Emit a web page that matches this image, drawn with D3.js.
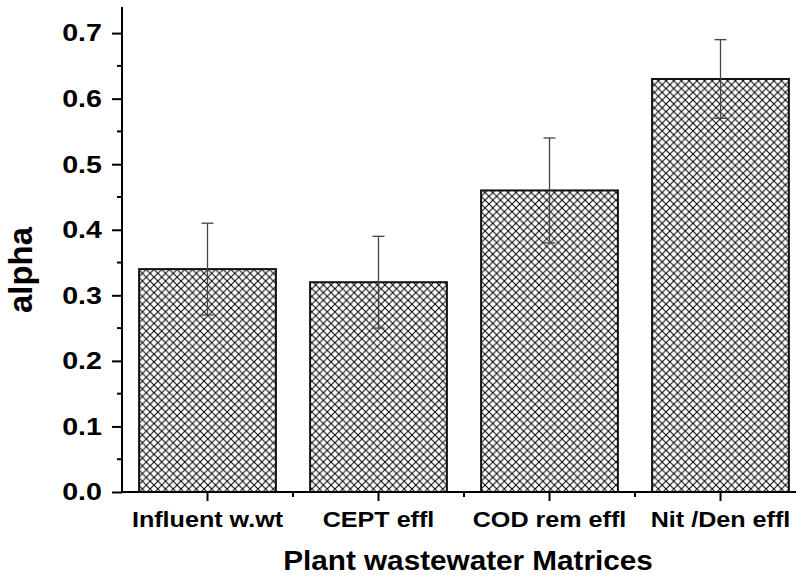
<!DOCTYPE html>
<html>
<head>
<meta charset="utf-8">
<script src="https://cdn.jsdelivr.net/npm/d3@7"></script>
<style>
body { margin: 0; background: #fff; }
text { font-family: "Liberation Sans", Arial, sans-serif; font-weight: bold; }
</style>
</head>
<body>
<div id="chart"></div>
<script>
// data
var categories = ["Influent w.wt", "CEPT effl", "COD rem effl", "Nit /Den effl"];
var values = [0.34, 0.32, 0.46, 0.63];
var errors = [0.07, 0.07, 0.08, 0.06];
var yTicks = [0.0, 0.1, 0.2, 0.3, 0.4, 0.5, 0.6, 0.7];

var width = 796, height = 576;
var margin = {left: 122, top: 7, bottom: 84};
var bandW = 171;
var stretch = 1.17; // the original glyphs look widened

var svg = d3.select("#chart").append("svg")
  .attr("width", width).attr("height", height);

// cross hatch pattern
var hs = 7.7;
var defs = svg.append("defs");
var pat = defs.append("pattern")
  .attr("id", "hatch")
  .attr("patternUnits", "userSpaceOnUse")
  .attr("width", hs).attr("height", hs);
pat.append("rect").attr("width", hs).attr("height", hs).attr("fill", "#fff");
pat.append("path").attr("d", "M0,0L" + hs + "," + hs + "M" + hs + ",0L0," + hs)
  .attr("stroke", "#000").attr("stroke-width", 1);

var x = d3.scaleBand()
  .domain(categories)
  .range([margin.left, margin.left + bandW * categories.length])
  .paddingInner(0.2).paddingOuter(0.1);

var y = d3.scaleLinear()
  .domain([0, 0.7398])
  .range([height - margin.bottom, margin.top]);

// bars
svg.selectAll(".bar").data(values).enter().append("rect")
  .attr("class", "bar")
  .attr("x", (d, i) => x(categories[i]))
  .attr("width", x.bandwidth())
  .attr("y", d => y(d))
  .attr("height", d => y(0) - y(d))
  .attr("fill", "url(#hatch)")
  .attr("stroke", "#111").attr("stroke-width", 2);

// error bars
var eb = svg.selectAll(".err").data(values).enter().append("g").attr("class", "err")
  .attr("stroke", "#444").attr("stroke-width", 1.3);
eb.append("line")
  .attr("x1", (d, i) => x(categories[i]) + x.bandwidth() / 2)
  .attr("x2", (d, i) => x(categories[i]) + x.bandwidth() / 2)
  .attr("y1", (d, i) => y(d + errors[i]))
  .attr("y2", (d, i) => y(d - errors[i]));
[1, -1].forEach(function(s) {
  eb.append("line")
    .attr("x1", (d, i) => x(categories[i]) + x.bandwidth() / 2 - 6)
    .attr("x2", (d, i) => x(categories[i]) + x.bandwidth() / 2 + 6)
    .attr("y1", (d, i) => y(d + s * errors[i]))
    .attr("y2", (d, i) => y(d + s * errors[i]));
});

// y axis
var yAxis = svg.append("g")
  .attr("transform", "translate(" + margin.left + ",0)")
  .call(d3.axisLeft(y).tickValues(yTicks).tickFormat(d3.format(".1f")).tickSize(10));
yAxis.select(".domain").attr("stroke-width", 2).attr("d", "M0," + y(0) + "V" + margin.top);
yAxis.selectAll(".tick line").attr("stroke-width", 2);
yAxis.selectAll(".tick text")
  .attr("x", -20 / stretch)
  .attr("transform", "scale(" + stretch + ",1)")
  .attr("font-size", 24.5).attr("fill", "#000")
  .style("font-family", "'Liberation Sans', Arial, sans-serif").style("font-weight", "bold");
var minorY = d3.range(0.05, 0.74, 0.1);
svg.selectAll(".minorY").data(minorY).enter().append("line")
  .attr("x1", margin.left - 5).attr("x2", margin.left)
  .attr("y1", d => y(d)).attr("y2", d => y(d))
  .attr("stroke", "#000").attr("stroke-width", 2);

// x axis
var xAxis = svg.append("g")
  .attr("transform", "translate(0," + y(0) + ")")
  .call(d3.axisBottom(x).tickSize(9));
xAxis.select(".domain").attr("stroke-width", 2).attr("d", "M" + margin.left + ",0H" + width);
xAxis.selectAll(".tick line").attr("stroke-width", 2);
xAxis.selectAll(".tick text")
  .attr("y", 35).attr("dy", null)
  .attr("transform", "scale(" + stretch + ",1)")
  .attr("font-size", 21.5).attr("fill", "#000")
  .style("font-family", "'Liberation Sans', Arial, sans-serif").style("font-weight", "bold");
var minorX = categories.slice(1).map(c => x(c) - x.step() * x.paddingInner() / 2);
svg.selectAll(".minorX").data(minorX).enter().append("line")
  .attr("x1", d => d).attr("x2", d => d)
  .attr("y1", y(0)).attr("y2", y(0) + 5)
  .attr("stroke", "#000").attr("stroke-width", 2);

// titles
svg.append("text")
  .attr("transform", "translate(32,270) rotate(-90)")
  .attr("text-anchor", "middle")
  .attr("font-size", 33)
  .text("alpha");
svg.append("text")
  .attr("transform", "translate(468,570) scale(1.08,1)")
  .attr("text-anchor", "middle")
  .attr("font-size", 27.5)
  .text("Plant wastewater Matrices");
</script>
</body>
</html>
